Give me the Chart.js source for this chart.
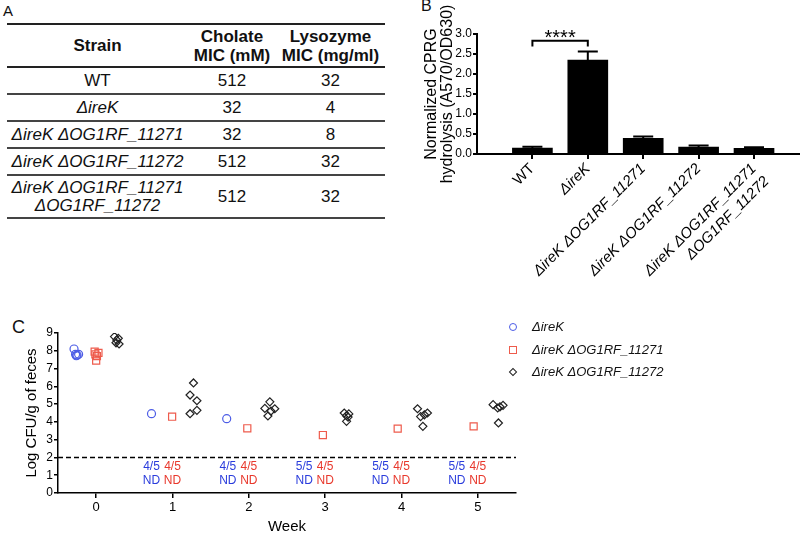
<!DOCTYPE html>
<html>
<head>
<meta charset="utf-8">
<script src="https://cdn.jsdelivr.net/npm/chart.js@4.4.1/dist/chart.umd.min.js"></script>
<style>
    body { margin: 0; width: 800px; height: 533px; position: relative; overflow: hidden; background: #fff;
           font-family: "Liberation Sans", Arial, sans-serif; color: #111; }
    .panel { position: absolute; line-height: 1; }
    #tableA { position: absolute; left: 7px; top: 23px; width: 378px; border-collapse: collapse; font-size: 17px; }
    #tableA th { font-weight: bold; line-height: 19px; border-top: 2px solid #222; border-bottom: 2px solid #222; height: 41px; padding: 0; }
    #tableA td { text-align: center; border-bottom: 2px solid #444; height: 25px; padding: 0; line-height: 18px; }
    #tableA tr.tall td { height: 41px; }
    #legendC { position: absolute; left: 506px; top: 316px; font-size: 13px; font-style: italic; }
    #legendC .row { position: relative; height: 22.5px; line-height: 22px; padding-left: 26px; white-space: nowrap; }
    #legendC .sym { position: absolute; box-sizing: border-box; }
    canvas { position: absolute; }
</style>
</head>
<body>
<div class="panel" style="left:3px;top:3px;font-size:15px">A</div>
<div class="panel" style="left:421px;top:-2px;font-size:16px">B</div>
<div class="panel" style="left:12px;top:318px;font-size:18px">C</div>

<table id="tableA"></table>
<canvas id="chartB" width="380" height="300" style="left:420px;top:0"></canvas>
<canvas id="chartC" width="800" height="233" style="left:0;top:300px"></canvas>
<div id="legendC"></div>

<script>
// ---- panel A: MIC table ----
const strains = [['WT'], ['ΔireK'], ['ΔireK ΔOG1RF_11271'], ['ΔireK ΔOG1RF_11272'], ['ΔireK ΔOG1RF_11271', 'ΔOG1RF_11272']];
const cholateMIC = [512, 32, 32, 512, 512];
const lysozymeMIC = [32, 4, 8, 32, 32];

// ---- panel B: CPRG hydrolysis ----
const barLabels = [['WT'], ['ΔireK'], ['ΔireK ΔOG1RF_11271'], ['ΔireK ΔOG1RF_11272'], ['ΔireK ΔOG1RF_11271', 'ΔOG1RF_11272']];
const barPositions = [1, 2, 3, 4, 5];
const barMeans = [0.15, 2.35, 0.39, 0.17, 0.14];
const barErrors = [0.03, 0.21, 0.05, 0.04, 0.03];
const cprgTicks = [0, 0.5, 1.0, 1.5, 2.0, 2.5, 3.0];

// ---- panel C: fecal colonisation ----
const weekTicks = [0, 1, 2, 3, 4, 5];
const ireKWeek = [-0.29, -0.27, -0.25, -0.23, -0.26, 0.725, 1.71];
const ireKLog = [8.1, 7.8, 7.75, 7.8, 7.72, 4.46, 4.18];
const d11271Week = [-0.02, 0.03, 0.01, 0.0, -0.01, 0.995, 1.98, 2.97, 3.95, 4.945];
const d11271Log = [7.95, 7.88, 7.7, 7.45, 7.8, 4.29, 3.64, 3.26, 3.62, 3.75];
const d11272Week = [0.24, 0.29, 0.27, 0.26, 0.3,
    1.275, 1.23, 1.32, 1.23, 1.32,
    2.275, 2.21, 2.34, 2.29, 2.25,
    3.25, 3.31, 3.28, 3.3, 3.28,
    4.21, 4.34, 4.3, 4.25, 4.28,
    5.2, 5.26, 5.33, 5.29, 5.27];
const d11272Log = [8.8, 8.7, 8.6, 8.45, 8.38,
    6.19, 5.51, 5.19, 4.46, 4.65,
    5.13, 4.76, 4.74, 4.61, 4.33,
    4.5, 4.45, 4.35, 4.27, 4.03,
    4.74, 4.5, 4.4, 4.3, 3.75,
    4.97, 4.78, 4.93, 4.85, 3.94];
const ndWeeks = [1, 2, 3, 4, 5];
const ndIreK = ['4/5', '4/5', '5/5', '5/5', '5/5'];
const nd11271 = ['4/5', '4/5', '4/5', '4/5', '4/5'];
const detectionLimit = 2;

const FONT = '"Liberation Sans", Arial, sans-serif';
const BLUE = '#4c5ce6';
const RED = '#ee5b4c';
const BLUE_TEXT = '#2a3cdc';
const RED_TEXT = '#e8382c';

Chart.defaults.font.family = FONT;
Chart.defaults.color = '#111';

function strainHtml(s) {
    if (s === 'WT') return s;
    return '<i>' + s + '</i>';
}

// build table A
const table = document.getElementById('tableA');
let html = '<tr><th style="width:181px">Strain</th><th style="width:88px">Cholate<br>MIC (mM)</th><th>Lysozyme<br>MIC (mg/ml)</th></tr>';
strains.forEach((s, i) => {
    html += `<tr class="${s.length > 1 ? 'tall' : ''}"><td>${s.map(strainHtml).join('<br>')}</td>` +
        `<td>${cholateMIC[i]}</td><td>${lysozymeMIC[i]}</td></tr>`;
});
table.innerHTML = html;

// error bars + significance bracket for B
const errorBarPlugin = {
    id: 'errorBars',
    afterDatasetsDraw(chart) {
        const { ctx, scales: { x, y } } = chart;
        ctx.save();
        ctx.strokeStyle = '#000';
        ctx.lineWidth = 2;
        barPositions.forEach((p, i) => {
            const px = x.getPixelForValue(p);
            const yBase = y.getPixelForValue(barMeans[i]);
            const yTop = y.getPixelForValue(barMeans[i] + barErrors[i]);
            ctx.beginPath();
            ctx.moveTo(px, yBase);
            ctx.lineTo(px, yTop);
            ctx.moveTo(px - 10, yTop);
            ctx.lineTo(px + 10, yTop);
            ctx.stroke();
        });
        // WT vs ireK bracket
        const x1 = x.getPixelForValue(barPositions[0]);
        const x2 = x.getPixelForValue(barPositions[1]);
        const yb = y.getPixelForValue(2.83);
        const yt = y.getPixelForValue(2.69);
        ctx.beginPath();
        ctx.moveTo(x1, yt);
        ctx.lineTo(x1, yb);
        ctx.lineTo(x2, yb);
        ctx.lineTo(x2, yt);
        ctx.stroke();
        ctx.fillStyle = '#000';
        ctx.font = '20px ' + FONT;
        ctx.textAlign = 'center';
        ctx.textBaseline = 'middle';
        ctx.fillText('****', (x1 + x2) / 2, y.getPixelForValue(2.97) + 3);
        ctx.restore();
    }
};

new Chart(document.getElementById('chartB'), {
    type: 'bar',
    data: {
        datasets: [{
            data: barPositions.map((p, i) => ({ x: p, y: barMeans[i] })),
            backgroundColor: '#000',
            barThickness: 40
        }]
    },
    options: {
        responsive: false,
        animation: false,
        devicePixelRatio: 1,
        layout: { padding: { top: 34, right: 0, left: 0, bottom: 0 } },
        plugins: { legend: { display: false }, tooltip: { enabled: false } },
        scales: {
            x: {
                type: 'linear',
                offset: false,
                min: 0,
                max: 5.83,
                afterBuildTicks: s => { s.ticks = barPositions.map(v => ({ value: v })); },
                afterFit: s => { s.height = 146; },
                grid: { offset: false, drawOnChartArea: false, tickLength: 5, color: '#000', lineWidth: 2 },
                border: { color: '#000', width: 2 },
                ticks: {
                    autoSkip: false,
                    minRotation: 45,
                    maxRotation: 45,
                    padding: 1,
                    color: '#000',
                    font: ctx => ({ size: 15, style: ctx.index === 0 ? 'normal' : 'italic' }),
                    callback: v => barLabels[barPositions.indexOf(v)]
                }
            },
            y: {
                min: 0,
                max: 3,
                afterBuildTicks: s => { s.ticks = cprgTicks.map(v => ({ value: v })); },
                afterFit: s => { s.width = 57; },
                grid: { drawOnChartArea: false, tickLength: 4, color: '#000', lineWidth: 2 },
                border: { color: '#000', width: 2 },
                ticks: { padding: 1, color: '#000', font: { size: 12 }, callback: v => v.toFixed(1) },
                title: {
                    display: true,
                    text: ['Normalized CPRG', 'hydrolysis (A570/OD630)'],
                    color: '#000',
                    font: { size: 16, lineHeight: 1.04 },
                    padding: { top: 3, bottom: 0 }
                }
            }
        }
    },
    plugins: [errorBarPlugin]
});

// detection limit + ND counts for C
const ndPlugin = {
    id: 'ndLabels',
    afterDatasetsDraw(chart) {
        const { ctx, chartArea, scales: { x, y } } = chart;
        ctx.save();
        ctx.strokeStyle = '#000';
        ctx.lineWidth = 1.5;
        ctx.setLineDash([5, 3]);
        const yl = y.getPixelForValue(detectionLimit);
        ctx.beginPath();
        ctx.moveTo(chartArea.left, yl);
        ctx.lineTo(chartArea.right, yl);
        ctx.stroke();
        ctx.setLineDash([]);
        ctx.font = '12px ' + FONT;
        ctx.textAlign = 'center';
        ctx.textBaseline = 'middle';
        ndWeeks.forEach((w, i) => {
            const xb = x.getPixelForValue(w - 0.275);
            const xr = x.getPixelForValue(w);
            ctx.fillStyle = BLUE_TEXT;
            ctx.fillText(ndIreK[i], xb, y.getPixelForValue(1.46));
            ctx.fillText('ND', xb, y.getPixelForValue(0.71));
            ctx.fillStyle = RED_TEXT;
            ctx.fillText(nd11271[i], xr, y.getPixelForValue(1.46));
            ctx.fillText('ND', xr, y.getPixelForValue(0.71));
        });
        ctx.restore();
    }
};

const pts = (xs, ys) => xs.map((v, i) => ({ x: v, y: ys[i] }));

new Chart(document.getElementById('chartC'), {
    type: 'scatter',
    data: {
        datasets: [
            { label: 'ΔireK', data: pts(ireKWeek, ireKLog), pointStyle: 'circle', pointRadius: 4,
              borderColor: BLUE, backgroundColor: 'rgba(0,0,0,0)', borderWidth: 1.2 },
            { label: 'ΔireK ΔOG1RF_11271', data: pts(d11271Week, d11271Log), pointStyle: 'rect', pointRadius: 5,
              borderColor: RED, backgroundColor: 'rgba(0,0,0,0)', borderWidth: 1.2 },
            { label: 'ΔireK ΔOG1RF_11272', data: pts(d11272Week, d11272Log), pointStyle: 'rectRot', pointRadius: 4,
              borderColor: '#222', backgroundColor: 'rgba(0,0,0,0)', borderWidth: 1.2 }
        ]
    },
    options: {
        responsive: false,
        animation: false,
        devicePixelRatio: 1,
        layout: { padding: { top: 33, right: 284, left: 0, bottom: 0 } },
        plugins: { legend: { display: false }, tooltip: { enabled: false } },
        scales: {
            x: {
                type: 'linear',
                min: -0.5,
                max: 5.5,
                afterBuildTicks: s => { s.ticks = weekTicks.map(v => ({ value: v })); },
                afterFit: s => { s.height = 40; },
                grid: { drawOnChartArea: false, tickLength: 5, color: '#000', lineWidth: 1.5 },
                border: { color: '#000', width: 1.5 },
                ticks: { padding: 2, color: '#000', font: { size: 13 } },
                title: { display: true, text: 'Week', color: '#000', font: { size: 15 }, padding: { top: 0, bottom: -3 } }
            },
            y: {
                min: 0,
                max: 9,
                ticks: { stepSize: 1, padding: 1, color: '#000', font: { size: 12 } },
                afterFit: s => { s.width = 58; },
                grid: { drawOnChartArea: false, tickLength: 4, color: '#000', lineWidth: 1.5 },
                border: { color: '#000', width: 1.5 },
                title: { display: true, text: 'Log CFU/g of feces', color: '#000', font: { size: 15 }, padding: { top: 23, bottom: 0 } }
            }
        }
    },
    plugins: [ndPlugin]
});

// legend for C
const legendItems = [
    { label: 'ΔireK', css: `width:8px;height:8px;border:1px solid ${BLUE};border-radius:50%;left:3px;top:7px;` },
    { label: 'ΔireK ΔOG1RF_11271', css: `width:8px;height:8px;border:1px solid ${RED};left:3px;top:7px;` },
    { label: 'ΔireK ΔOG1RF_11272', css: `width:6px;height:6px;border:1px solid #222;left:4px;top:8px;transform:rotate(45deg);` }
];
document.getElementById('legendC').innerHTML = legendItems
    .map(it => `<div class="row"><span class="sym" style="${it.css}"></span>${it.label}</div>`).join('');
</script>
</body>
</html>
